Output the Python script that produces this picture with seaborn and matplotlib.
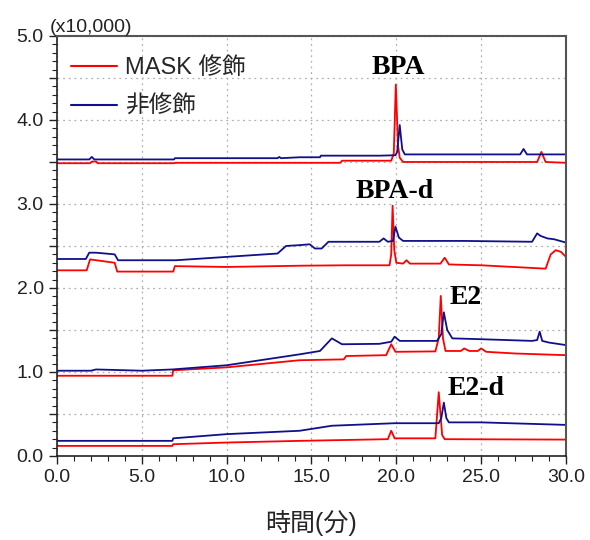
import matplotlib
matplotlib.use("Agg")
import matplotlib.pyplot as plt
from matplotlib.lines import Line2D
from matplotlib.ticker import MultipleLocator, FuncFormatter
import pandas as pd
import seaborn as sns

# chromatogram traces, time in minutes, signal in units of 10,000
bpa_mask_t = [0, 1.95, 2.05, 2.3, 2.4, 6.9, 6.95, 16.7, 16.8, 19.7, 19.85, 19.97, 20.1, 20.2, 20.4, 28.3, 28.55, 28.8, 30.0]
bpa_mask_y = [3.485, 3.485, 3.505, 3.505, 3.485, 3.485, 3.49, 3.49, 3.515, 3.515, 3.6, 4.42, 3.7, 3.55, 3.50, 3.50, 3.62, 3.50, 3.49]
bpa_plain_t = [0, 1.9, 2.05, 2.2, 6.9, 6.95, 13.0, 13.1, 13.2, 14.3, 15.5, 15.55, 19.0, 19.95, 20.05, 20.2, 20.35, 20.5, 27.3, 27.5, 27.7, 30.0]
bpa_plain_y = [3.53, 3.53, 3.56, 3.53, 3.53, 3.545, 3.545, 3.56, 3.545, 3.556, 3.556, 3.575, 3.575, 3.58, 3.62, 3.94, 3.65, 3.59, 3.59, 3.655, 3.59, 3.59]

bpad_mask_t = [0, 1.75, 1.95, 3.4, 3.55, 6.85, 6.95, 10.0, 14.3, 17.0, 19.6, 19.7, 19.78, 19.88, 20.0, 20.4, 20.6, 20.8, 22.6, 22.85, 23.1, 25.0, 28.8, 29.1, 29.4, 29.7, 30.0]
bpad_mask_y = [2.21, 2.21, 2.34, 2.30, 2.195, 2.195, 2.26, 2.25, 2.265, 2.27, 2.27, 2.40, 2.98, 2.45, 2.30, 2.29, 2.33, 2.29, 2.29, 2.36, 2.28, 2.27, 2.23, 2.40, 2.45, 2.43, 2.37]
bpad_plain_t = [0, 1.7, 1.9, 2.3, 3.4, 3.6, 7.0, 10.0, 13.0, 13.5, 14.3, 14.9, 15.2, 15.6, 16.0, 19.0, 19.25, 19.5, 19.8, 19.95, 20.15, 20.4, 24.0, 28.0, 28.3, 28.5, 28.9, 29.3, 30.0]
bpad_plain_y = [2.345, 2.345, 2.42, 2.42, 2.40, 2.33, 2.33, 2.37, 2.41, 2.50, 2.51, 2.52, 2.47, 2.47, 2.55, 2.55, 2.59, 2.55, 2.56, 2.73, 2.60, 2.56, 2.56, 2.55, 2.65, 2.62, 2.59, 2.58, 2.54]

e2_mask_t = [0, 6.8, 6.85, 10.0, 14.3, 16.9, 17.05, 19.4, 19.7, 19.95, 22.3, 22.5, 22.62, 22.75, 22.9, 23.8, 24.0, 24.3, 24.8, 25.0, 25.3, 27.0, 30.0]
e2_mask_y = [0.955, 0.955, 1.02, 1.055, 1.14, 1.15, 1.19, 1.20, 1.33, 1.24, 1.245, 1.40, 1.905, 1.40, 1.25, 1.25, 1.28, 1.25, 1.25, 1.28, 1.24, 1.22, 1.20]
e2_plain_t = [0, 2.0, 2.3, 5.0, 6.8, 10.0, 14.3, 15.5, 16.2, 16.8, 19.0, 19.7, 19.9, 20.2, 22.4, 22.65, 22.8, 23.0, 23.3, 25.0, 28.0, 28.3, 28.45, 28.6, 29.0, 30.0]
e2_plain_y = [1.015, 1.015, 1.03, 1.015, 1.03, 1.08, 1.21, 1.25, 1.40, 1.33, 1.335, 1.36, 1.42, 1.37, 1.37, 1.45, 1.71, 1.50, 1.40, 1.39, 1.37, 1.38, 1.48, 1.37, 1.35, 1.32]

e2d_mask_t = [0, 6.8, 6.85, 10.0, 14.3, 19.5, 19.7, 19.9, 22.3, 22.5, 22.7, 22.85, 30.0]
e2d_mask_y = [0.12, 0.12, 0.14, 0.16, 0.18, 0.20, 0.30, 0.21, 0.21, 0.76, 0.25, 0.20, 0.195]
e2d_plain_t = [0, 6.8, 6.85, 10.0, 14.3, 16.2, 19.9, 22.5, 22.65, 22.8, 22.95, 23.1, 25.0, 30.0]
e2d_plain_y = [0.18, 0.18, 0.21, 0.26, 0.30, 0.36, 0.39, 0.39, 0.45, 0.635, 0.45, 0.40, 0.40, 0.37]

series_names = ["MASK 修飾", "非修飾"]
peak_labels = ["BPA", "BPA-d", "E2", "E2-d"]
label_x = [20.1, 19.9, 24.1, 24.7]
label_y = [4.62, 3.15, 1.89, 0.80]

traces = [
    (bpa_mask_t, bpa_mask_y, series_names[0]), (bpa_plain_t, bpa_plain_y, series_names[1]),
    (bpad_mask_t, bpad_mask_y, series_names[0]), (bpad_plain_t, bpad_plain_y, series_names[1]),
    (e2_mask_t, e2_mask_y, series_names[0]), (e2_plain_t, e2_plain_y, series_names[1]),
    (e2d_mask_t, e2d_mask_y, series_names[0]), (e2d_plain_t, e2d_plain_y, series_names[1]),
]
rows = []
for i, (t, y, name) in enumerate(traces):
    for tt, yy in zip(t, y):
        rows.append({"time": tt, "signal": yy, "series": name, "trace": i})
df = pd.DataFrame(rows)

sns.set_style("white")
plt.rcParams["font.family"] = ["Liberation Sans", "Noto Sans CJK JP"]

colors = {series_names[0]: "#ff0000", series_names[1]: "#10108a"}

fig = plt.figure(figsize=(5.9, 5.4), dpi=100)
ax = fig.add_axes([0.0966, 0.1556, 0.8627, 0.7778])

sns.lineplot(data=df, x="time", y="signal", hue="series", units="trace",
             estimator=None, sort=False, palette=colors, linewidth=1.3,
             legend=False, ax=ax)

ax.set_xlim(0, 30)
ax.set_ylim(0, 5)
ax.xaxis.set_major_locator(MultipleLocator(5))
ax.xaxis.set_minor_locator(MultipleLocator(1))
ax.yaxis.set_major_locator(MultipleLocator(0.5))
ax.yaxis.set_minor_locator(MultipleLocator(0.1))
ax.xaxis.set_major_formatter(FuncFormatter(lambda v, p: f"{v:.1f}"))
ax.yaxis.set_major_formatter(FuncFormatter(lambda v, p: f"{v:.1f}" if abs(v - round(v)) < 1e-6 else ""))
ax.tick_params(axis="both", which="major", direction="out", length=6, width=1,
               labelsize=14, colors="#222222", bottom=True, left=True)
ax.tick_params(axis="both", which="minor", direction="out", length=3.5, width=0.8,
               color="#222222", bottom=True, left=True)
ax.grid(True, which="major", linestyle=(0, (1.5, 3)), color="#b0b0b0", linewidth=0.9)

for side in ["left", "bottom"]:
    ax.spines[side].set_color("#222222")
    ax.spines[side].set_linewidth(1.2)
for side in ["top", "right"]:
    ax.spines[side].set_color("#555555")
    ax.spines[side].set_linewidth(1.5)

ax.set_xlabel("時間(分)", fontsize=18, labelpad=17)
ax.set_ylabel("")
ax.text(-0.015, 1.0, "(x10,000)", transform=ax.transAxes, fontsize=14,
        color="#222222", ha="left", va="bottom")

for lab, lx, ly in zip(peak_labels, label_x, label_y):
    ax.text(lx, ly, lab, fontsize=20, fontweight="bold", family="Liberation Serif",
            ha="center", va="center", color="black")

handles = [Line2D([], [], color=colors[n], linewidth=1.5) for n in series_names]
ax.legend(handles, series_names, loc="upper left", bbox_to_anchor=(0.018, 0.96),
          frameon=False, fontsize=17, handlelength=1.95, handletextpad=0.35,
          labelspacing=0.7, borderaxespad=0, borderpad=0.2)

fig.savefig("out.png", dpi=100)
plt.close(fig)
